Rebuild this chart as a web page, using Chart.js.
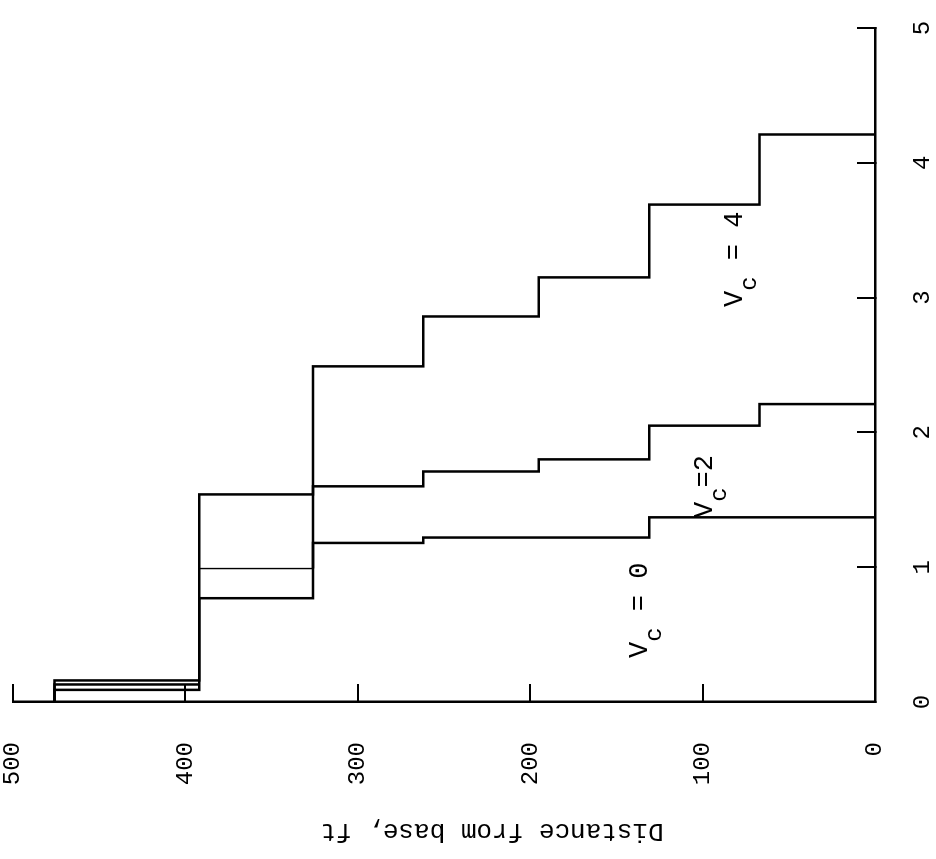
<!DOCTYPE html>
<html>
<head>
<meta charset="utf-8">
<script src="https://cdn.jsdelivr.net/npm/chart.js"></script>
<style>
  html, body { margin: 0; padding: 0; background: #fff; overflow: hidden; }
  #plate {
    position: absolute;
    left: 0;
    top: 0;
    transform-origin: 0 0;
    transform: translateY(859px) rotate(-90deg);
  }
</style>
</head>
<body>
<canvas id="plate" width="859" height="936"></canvas>
<script>
// band edges along the structure, ft (from the top band down to the base)
const distanceEdges = [476, 392, 326, 262, 195, 131, 67, 0];
// value inside each band, ending at the edge with the same index
const vc0 = [0, 0.09, 0.77, 1.18, 1.22, 1.22, 1.37, 1.37];
const vc2 = [0, 0.13, 0.99, 1.6, 1.71, 1.8, 2.05, 2.21];
const vc4 = [0, 0.16, 1.54, 2.49, 2.86, 3.15, 3.69, 4.21];

const valueTicks = [0, 1, 2, 3, 4, 5];
const distanceTicks = [0, 100, 200, 300, 400, 500];

// curve labels: V, subscript c, then the rest, anchored in data units
const curveLabels = [
  { tail: " = 0", x: 0.326, y: 132 },
  { tail: "=2", x: 1.365, y: 94.5 },
  { tail: " = 4", x: 2.93, y: 77 },
];
const axisCaption = "Distance from base, ft";

const mono = '"Liberation Mono", "DejaVu Sans Mono", monospace';

const toPoints = (values) =>
  distanceEdges.map((d, i) => ({ x: values[i], y: d }));

const stepLine = (values, extra) => ({
  data: toPoints(values),
  showLine: true,
  stepped: "before",
  borderColor: "#000",
  borderWidth: 2.5,
  pointRadius: 0,
  fill: false,
  ...extra,
});

const captionPlugin = {
  id: "caption",
  afterDraw(chart) {
    const { ctx, chartArea, scales } = chart;
    ctx.save();
    ctx.fillStyle = "#000";

    // axis caption, set a bit off-centre toward the base
    ctx.font = "26px " + mono;
    ctx.textAlign = "center";
    ctx.textBaseline = "middle";
    ctx.translate(28, (chartArea.top + chartArea.bottom) / 2 + 48);
    ctx.rotate(-Math.PI / 2);
    ctx.fillText(axisCaption, 0, 0);
    ctx.restore();

    ctx.save();
    ctx.fillStyle = "#000";
    ctx.textAlign = "left";
    ctx.textBaseline = "alphabetic";
    curveLabels.forEach((lab) => {
      let px = scales.x.getPixelForValue(lab.x);
      const py = scales.y.getPixelForValue(lab.y);
      ctx.font = "27px " + mono;
      ctx.fillText("V", px, py);
      px += ctx.measureText("V").width;
      ctx.font = "24px " + mono;
      ctx.fillText("c", px, py + 14);
      px += ctx.measureText("c").width;
      ctx.font = "27px " + mono;
      ctx.fillText(lab.tail, px, py);
    });
    ctx.restore();
  },
};

const axisStyle = (ticks, padding, fit) => ({
  type: "linear",
  min: ticks[0],
  max: ticks[ticks.length - 1],
  afterBuildTicks: (scale) => {
    scale.ticks = ticks.map((v) => ({ value: v }));
  },
  afterFit: (scale) => {
    fit(scale);
    scale.paddingTop = 0;
    scale.paddingBottom = 0;
    scale.paddingLeft = 0;
    scale.paddingRight = 0;
  },
  grid: {
    drawOnChartArea: false,
    drawTicks: true,
    tickLength: -18,
    color: "#000",
    lineWidth: 2,
  },
  border: { display: true, color: "#000", width: 2.5 },
  ticks: {
    color: "#000",
    padding: padding,
    font: { family: mono, size: 24, lineHeight: 1 },
  },
});

new Chart(document.getElementById("plate").getContext("2d"), {
  type: "scatter",
  data: {
    datasets: [
      stepLine(vc0),
      stepLine(vc2, {
        segment: {
          borderWidth: (ctx) => (ctx.p0DataIndex === 1 ? 1.4 : 2.5),
        },
      }),
      stepLine(vc4),
    ],
  },
  options: {
    responsive: false,
    animation: false,
    layout: { padding: { top: 13, right: 28, left: 0, bottom: 0 } },
    scales: {
      x: {
        ...axisStyle(valueTicks, 54, (scale) => {
          scale.height = 61;
        }),
        position: "bottom",
      },
      y: {
        ...axisStyle(distanceTicks, 58, (scale) => {
          scale.width = 157;
        }),
        position: "left",
      },
    },
    plugins: {
      legend: { display: false },
      tooltip: { enabled: false },
    },
  },
  plugins: [captionPlugin],
});
</script>
</body>
</html>
